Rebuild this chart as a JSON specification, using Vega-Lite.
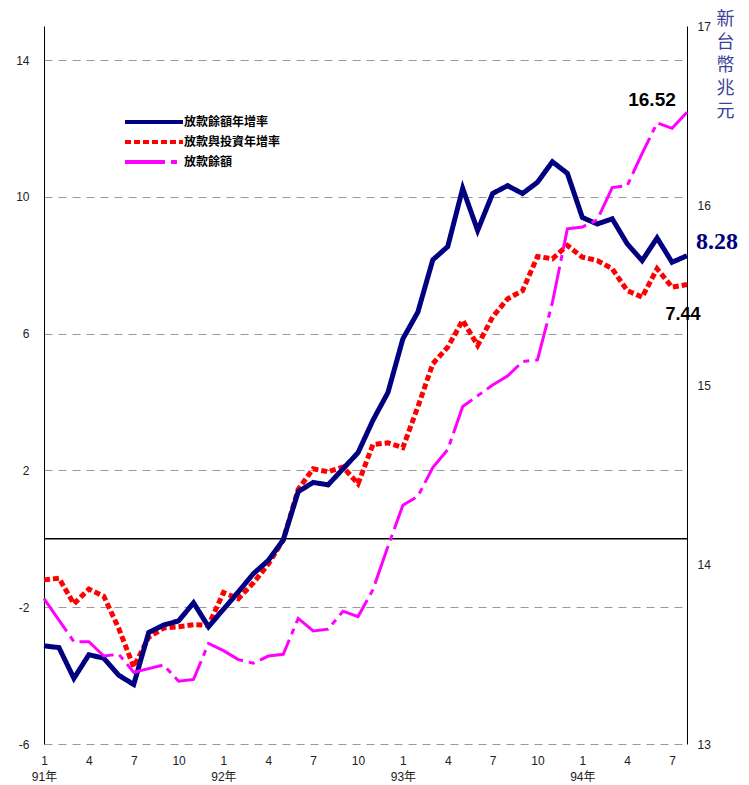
{
  "$schema": "https://vega.github.io/schema/vega-lite/v6.json",
  "autosize": "none",
  "width": 643,
  "height": 718,
  "padding": {"left": 44, "top": 26, "right": 62, "bottom": 41},
  "background": "white",
  "config": {
    "view": {"stroke": null},
    "font": "Liberation Sans, Noto Sans CJK TC",
    "axis": {"labelFont": "Liberation Sans, Noto Sans CJK TC", "labelFontSize": 12, "labelColor": "#222222", "labelFlush": false, "labelOverlap": false, "labelBound": false}
  },
  "datasets": {
    "monthly": [
      {"idx": 0, "year": 91, "month": 1, "放款餘額年增率": -3.13, "放款與投資年增率": -1.20, "放款餘額": 13.81},
      {"idx": 1, "year": 91, "month": 2, "放款餘額年增率": -3.18, "放款與投資年增率": -1.15, "放款餘額": 13.69},
      {"idx": 2, "year": 91, "month": 3, "放款餘額年增率": -4.08, "放款與投資年增率": -1.90, "放款餘額": 13.57},
      {"idx": 3, "year": 91, "month": 4, "放款餘額年增率": -3.39, "放款與投資年增率": -1.47, "放款餘額": 13.57},
      {"idx": 4, "year": 91, "month": 5, "放款餘額年增率": -3.49, "放款與投資年增率": -1.68, "放款餘額": 13.49},
      {"idx": 5, "year": 91, "month": 6, "放款餘額年增率": -3.99, "放款與投資年增率": -2.62, "放款餘額": 13.50},
      {"idx": 6, "year": 91, "month": 7, "放款餘額年增率": -4.26, "放款與投資年增率": -3.75, "放款餘額": 13.40},
      {"idx": 7, "year": 91, "month": 8, "放款餘額年增率": -2.74, "放款與投資年增率": -2.88, "放款餘額": 13.42},
      {"idx": 8, "year": 91, "month": 9, "放款餘額年增率": -2.52, "放款與投資年增率": -2.61, "放款餘額": 13.44},
      {"idx": 9, "year": 91, "month": 10, "放款餘額年增率": -2.40, "放款與投資年增率": -2.57, "放款餘額": 13.35},
      {"idx": 10, "year": 91, "month": 11, "放款餘額年增率": -1.87, "放款與投資年增率": -2.51, "放款餘額": 13.36},
      {"idx": 11, "year": 91, "month": 12, "放款餘額年增率": -2.57, "放款與投資年增率": -2.53, "放款餘額": 13.56},
      {"idx": 12, "year": 92, "month": 1, "放款餘額年增率": -2.06, "放款與投資年增率": -1.57, "放款餘額": 13.52},
      {"idx": 13, "year": 92, "month": 2, "放款餘額年增率": -1.55, "放款與投資年增率": -1.75, "放款餘額": 13.47},
      {"idx": 14, "year": 92, "month": 3, "放款餘額年增率": -1.02, "放款與投資年增率": -1.29, "放款餘額": 13.45},
      {"idx": 15, "year": 92, "month": 4, "放款餘額年增率": -0.63, "放款與投資年增率": -0.74, "放款餘額": 13.49},
      {"idx": 16, "year": 92, "month": 5, "放款餘額年增率": -0.03, "放款與投資年增率": -0.03, "放款餘額": 13.50},
      {"idx": 17, "year": 92, "month": 6, "放款餘額年增率": 1.38, "放款與投資年增率": 1.45, "放款餘額": 13.70},
      {"idx": 18, "year": 92, "month": 7, "放款餘額年增率": 1.65, "放款與投資年增率": 2.05, "放款餘額": 13.63},
      {"idx": 19, "year": 92, "month": 8, "放款餘額年增率": 1.58, "放款與投資年增率": 1.96, "放款餘額": 13.64},
      {"idx": 20, "year": 92, "month": 9, "放款餘額年增率": 2.05, "放款與投資年增率": 2.10, "放款餘額": 13.74},
      {"idx": 21, "year": 92, "month": 10, "放款餘額年增率": 2.52, "放款與投資年增率": 1.61, "放款餘額": 13.71},
      {"idx": 22, "year": 92, "month": 11, "放款餘額年增率": 3.47, "放款與投資年增率": 2.76, "放款餘額": 13.86},
      {"idx": 23, "year": 92, "month": 12, "放款餘額年增率": 4.28, "放款與投資年增率": 2.81, "放款餘額": 14.10},
      {"idx": 24, "year": 93, "month": 1, "放款餘額年增率": 5.85, "放款與投資年增率": 2.67, "放款餘額": 14.33},
      {"idx": 25, "year": 93, "month": 2, "放款餘額年增率": 6.63, "放款與投資年增率": 3.86, "放款餘額": 14.38},
      {"idx": 26, "year": 93, "month": 3, "放款餘額年增率": 8.16, "放款與投資年增率": 5.12, "放款餘額": 14.54},
      {"idx": 27, "year": 93, "month": 4, "放款餘額年增率": 8.55, "放款與投資年增率": 5.61, "放款餘額": 14.64},
      {"idx": 28, "year": 93, "month": 5, "放款餘額年增率": 10.25, "放款與投資年增率": 6.39, "放款餘額": 14.88},
      {"idx": 29, "year": 93, "month": 6, "放款餘額年增率": 9.02, "放款與投資年增率": 5.66, "放款餘額": 14.94},
      {"idx": 30, "year": 93, "month": 7, "放款餘額年增率": 10.10, "放款與投資年增率": 6.49, "放款餘額": 15.00},
      {"idx": 31, "year": 93, "month": 8, "放款餘額年增率": 10.33, "放款與投資年增率": 7.02, "放款餘額": 15.05},
      {"idx": 32, "year": 93, "month": 9, "放款餘額年增率": 10.10, "放款與投資年增率": 7.26, "放款餘額": 15.13},
      {"idx": 33, "year": 93, "month": 10, "放款餘額年增率": 10.43, "放款與投資年增率": 8.26, "放款餘額": 15.14},
      {"idx": 34, "year": 93, "month": 11, "放款餘額年增率": 11.03, "放款與投資年增率": 8.19, "放款餘額": 15.46},
      {"idx": 35, "year": 93, "month": 12, "放款餘額年增率": 10.69, "放款與投資年增率": 8.58, "放款餘額": 15.87},
      {"idx": 36, "year": 94, "month": 1, "放款餘額年增率": 9.40, "放款與投資年增率": 8.24, "放款餘額": 15.88},
      {"idx": 37, "year": 94, "month": 2, "放款餘額年增率": 9.21, "放款與投資年增率": 8.14, "放款餘額": 15.92},
      {"idx": 38, "year": 94, "month": 3, "放款餘額年增率": 9.36, "放款與投資年增率": 7.90, "放款餘額": 16.10},
      {"idx": 39, "year": 94, "month": 4, "放款餘額年增率": 8.63, "放款與投資年增率": 7.26, "放款餘額": 16.11},
      {"idx": 40, "year": 94, "month": 5, "放款餘額年增率": 8.14, "放款與投資年增率": 7.07, "放款餘額": 16.29},
      {"idx": 41, "year": 94, "month": 6, "放款餘額年增率": 8.80, "放款與投資年增率": 7.90, "放款餘額": 16.46},
      {"idx": 42, "year": 94, "month": 7, "放款餘額年增率": 8.09, "放款與投資年增率": 7.36, "放款餘額": 16.43},
      {"idx": 43, "year": 94, "month": 8, "放款餘額年增率": 8.28, "放款與投資年增率": 7.44, "放款餘額": 16.52}
    ]
  },
  "data": {"name": "monthly"},
  "encoding": {
    "x": {"field": "idx", "type": "quantitative", "scale": {"domain": [0, 43], "nice": false, "zero": false},
      "axis": {"orient": "bottom", "values": [0, 3, 6, 9, 12, 15, 18, 21, 24, 27, 30, 33, 36, 39, 42], "domain": false, "ticks": false, "grid": false, "title": null, "labelPadding": 11, "labelLineHeight": 16,
        "labelExpr": "datum.value % 12 == 0 ? ['1', (91 + floor(datum.value / 12)) + '年'] : '' + (datum.value % 12 + 1)"}}
  },
  "layer": [
    {
      "encoding": {
        "y": {"field": "value", "type": "quantitative", "scale": {"domain": [-6, 15], "nice": false, "zero": false},
          "axis": {"orient": "left", "values": [-6, -2, 2, 6, 10, 14], "title": null, "grid": true, "gridDash": [8, 6], "gridColor": "#999999", "gridWidth": 1, "domain": true, "domainColor": "#000000", "domainWidth": 1, "ticks": false, "labelPadding": 15, "labelExpr": "'' + datum.value"}}
      },
      "layer": [
        {
          "data": {"values": [{"idx": 0, "value": 0}, {"idx": 43, "value": 0}]},
          "mark": {"type": "line", "color": "#000000", "strokeWidth": 1.5}
        },
        {
          "transform": [
            {"fold": ["放款餘額年增率", "放款與投資年增率"], "as": ["series", "value"]},
            {"filter": "datum.series == '放款與投資年增率'"}
          ],
          "mark": {"type": "line", "strokeWidth": 5, "strokeCap": "butt"},
          "encoding": {
            "color": {"field": "series", "type": "nominal",
              "scale": {"domain": ["放款餘額年增率", "放款與投資年增率", "放款餘額"], "range": ["#000080", "#ff0000", "#ff00ff"]},
              "legend": {"orient": "none", "legendX": 98, "legendY": 84, "title": null, "padding": 0, "symbolType": "M-3,0H3", "symbolSize": 374, "symbolStrokeWidth": 4, "labelFontSize": 12, "labelFontWeight": "bold", "labelColor": "#000000", "labelFont": "Noto Sans CJK TC", "labelOffset": 18, "rowPadding": -2}},
            "strokeDash": {"field": "series", "type": "nominal",
              "scale": {"domain": ["放款餘額年增率", "放款與投資年增率", "放款餘額"], "range": [[1, 0], [6, 3], [40, 6, 6, 6]]}}
          }
        },
        {
          "transform": [
            {"fold": ["放款餘額年增率", "放款與投資年增率"], "as": ["series", "value"]},
            {"filter": "datum.series == '放款餘額年增率'"}
          ],
          "mark": {"type": "line", "strokeWidth": 5, "strokeJoin": "miter"},
          "encoding": {
            "color": {"field": "series", "type": "nominal"},
            "strokeDash": {"field": "series", "type": "nominal"}
          }
        },
        {
          "data": {"values": [{"idx": 43, "value": 8.28}]},
          "mark": {"type": "text", "font": "Liberation Serif", "fontSize": 24, "fontWeight": "bold", "color": "#000080", "align": "center", "baseline": "middle", "dx": 30, "dy": -14},
          "encoding": {"text": {"field": "value", "type": "quantitative", "format": ".2f"}}
        },
        {
          "data": {"values": [{"idx": 43, "value": 7.44}]},
          "mark": {"type": "text", "font": "Liberation Sans", "fontSize": 18, "fontWeight": "bold", "color": "#000000", "align": "center", "baseline": "middle", "dx": -4, "dy": 31},
          "encoding": {"text": {"field": "value", "type": "quantitative", "format": ".2f"}}
        }
      ]
    },
    {
      "encoding": {
        "y": {"field": "value", "type": "quantitative", "scale": {"domain": [13, 17], "nice": false, "zero": false},
          "axis": {"orient": "right", "values": [13, 14, 15, 16, 17], "grid": false, "domain": true, "domainColor": "#000000", "domainWidth": 1, "ticks": false, "labelPadding": 10, "labelExpr": "'' + datum.value",
            "title": ["新", "台", "幣", "兆", "元"], "titleAngle": 0, "titleAlign": "center", "titleBaseline": "top", "titleX": 38, "titleY": -16, "titleLineHeight": 23, "titleFontSize": 18, "titleFontWeight": "normal", "titleColor": "#40409a", "titleFont": "Liberation Serif, Noto Sans CJK TC"}}
      },
      "layer": [
        {
          "transform": [{"fold": ["放款餘額"], "as": ["series", "value"]}],
          "mark": {"type": "line", "strokeWidth": 3, "strokeCap": "butt"},
          "encoding": {
            "color": {"field": "series", "type": "nominal"},
            "strokeDash": {"field": "series", "type": "nominal"}
          }
        },
        {
          "data": {"values": [{"idx": 43, "value": 16.52}]},
          "mark": {"type": "text", "font": "Liberation Sans", "fontSize": 19, "fontWeight": "bold", "color": "#000000", "align": "center", "baseline": "middle", "dx": -35, "dy": -12},
          "encoding": {"text": {"field": "value", "type": "quantitative", "format": ".2f"}}
        }
      ]
    }
  ],
  "resolve": {"scale": {"y": "independent"}}
}
